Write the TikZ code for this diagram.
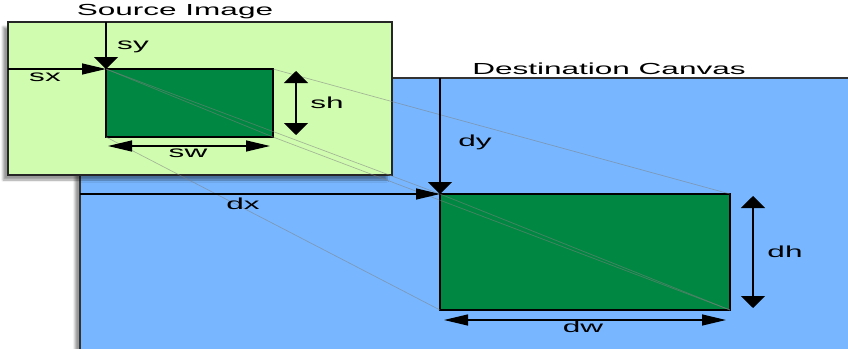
\documentclass[tikz,border=0pt]{standalone}
\usepackage{fontspec}
\setmainfont{Liberation Sans}
\usetikzlibrary{arrows.meta,shadows.blur}
\definecolor{srcgreen}{RGB}{208,252,176}
\definecolor{canvasblue}{RGB}{120,183,255}
\definecolor{rectgreen}{RGB}{0,135,65}
\begin{document}
\begin{tikzpicture}[x=1pt,y=-1pt,
        lab/.style={font=\fontsize{16}{18}\selectfont, xscale=1.97, inner sep=0pt},
        htip/.tip={Triangle[length=24pt,width=11pt,fill=black]},
        vtip/.tip={Triangle[length=12pt,width=24pt,fill=black]},
        harrow/.style={line width=1.3pt, -htip},
        varrow/.style={line width=1.3pt, -vtip},
        proj/.style={gray, opacity=0.55, line width=0.7pt}]
        \useasboundingbox (0,0) rectangle (848,348);
        \clip (0,0) rectangle (848,348);

        % Corners of both frames and both rectangles
        \coordinate (cTL) at (80,78);
        \coordinate (cBR) at (856,356);
        \coordinate (iTL) at (8,22);
        \coordinate (iBR) at (392,175);
        \coordinate (sTL) at (106,69);
        \coordinate (sTR) at (273,69);
        \coordinate (sBL) at (106,137);
        \coordinate (sBR) at (273,137);
        \coordinate (dTL) at (440,194);
        \coordinate (dTR) at (730,194);
        \coordinate (dBL) at (440,310);
        \coordinate (dBR) at (730,310);

        % Destination canvas and source image
        \fill[canvasblue, draw=black!80, line width=1.5pt, blur shadow={shadow xshift=-5pt, shadow yshift=-4pt}] (cTL) rectangle (cBR);
        \fill[srcgreen, draw=black!85, line width=1.5pt, blur shadow={shadow xshift=-5pt, shadow yshift=-5pt}] (iTL) rectangle (iBR);

        % Green rectangles
        \draw[fill=rectgreen, line width=1.5pt] (sTL) rectangle (sBR);
        \draw[fill=rectgreen, line width=1.5pt] (dTL) rectangle (dBR);

        % Projection lines from source to destination
        \draw[proj] (sTL) -- (sBR);
        \draw[proj] (dTL) -- (dBR);
        \draw[proj] (sTL) -- (dTL);
        \draw[proj] (sTR) -- (dTR);
        \draw[proj] (sBL) -- (dBL);
        \draw[proj] (sBR) -- (dBR);

        % Titles
        \node[lab] (srctitle) at (175,12) {Source Image};
        \node[lab] (dsttitle) at (609,69) {Destination Canvas};

        % Source offsets and sizes
        \coordinate (syTop) at (106,22);
        \coordinate (sxLeft) at (8,69);
        \draw[varrow] (syTop) -- (sTL);
        \draw[harrow] (sxLeft) -- (sTL);
        \node[lab] (sy) at (133,47) {sy};
        \node[lab] (sx) at (45,77) {sx};
        \coordinate (shTop) at (296,71);
        \coordinate (shBot) at (296,135);
        \draw[line width=1.3pt, vtip-vtip] (shTop) -- (shBot);
        \node[lab] (sh) at (327,103) {sh};
        \coordinate (swLeft) at (108,146);
        \coordinate (swRight) at (270,146);
        \draw[line width=1.3pt, htip-htip] (swLeft) -- (swRight);
        \node[lab] (sw) at (188,153) {sw};

        % Destination offsets and sizes
        \coordinate (dyTop) at (440,78);
        \coordinate (dxLeft) at (80,194);
        \draw[varrow] (dyTop) -- (dTL);
        \draw[harrow] (dxLeft) -- (dTL);
        \node[lab] (dy) at (475,142) {dy};
        \node[lab] (dx) at (243,204) {dx};
        \coordinate (dhTop) at (753,196);
        \coordinate (dhBot) at (753,308);
        \draw[line width=1.3pt, vtip-vtip] (dhTop) -- (dhBot);
        \node[lab] (dh) at (785,252) {dh};
        \coordinate (dwLeft) at (444,320);
        \coordinate (dwRight) at (726,320);
        \draw[line width=1.3pt, htip-htip] (dwLeft) -- (dwRight);
        \node[lab] (dw) at (583,327) {dw};
\end{tikzpicture}
\end{document}
